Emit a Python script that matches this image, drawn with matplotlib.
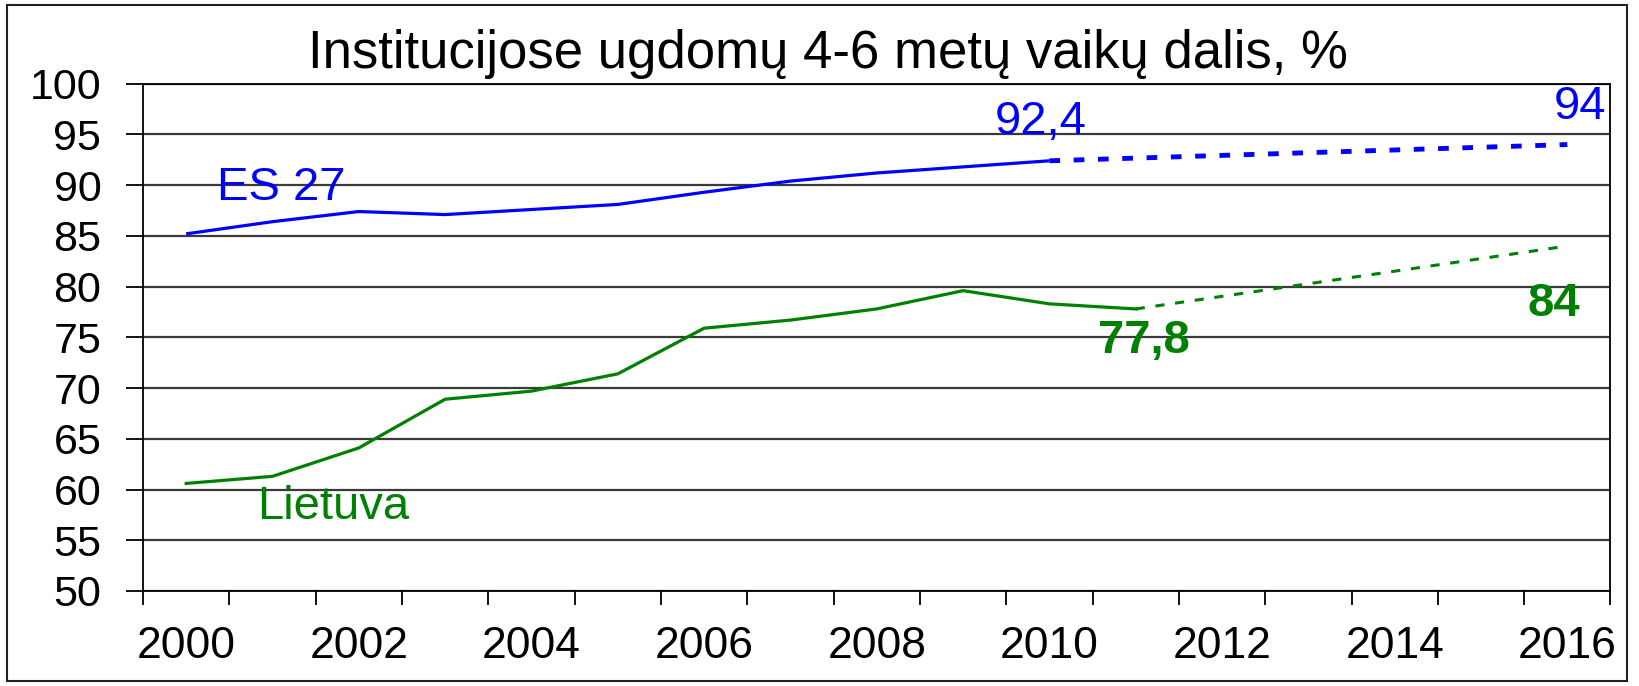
import matplotlib
matplotlib.use("Agg")
import matplotlib.pyplot as plt
from matplotlib.patches import Rectangle
from matplotlib.ticker import MultipleLocator

plt.rcParams['font.family'] = ['Liberation Sans', 'DejaVu Sans']

years = list(range(2000, 2017))

# measured data
es_years = list(range(2000, 2011))
es_values = [85.2, 86.4, 87.4, 87.1, 87.6, 88.1, 89.3, 90.4, 91.2, 91.8, 92.4]
lt_years = list(range(2000, 2012))
lt_values = [60.6, 61.3, 64.1, 68.9, 69.7, 71.4, 75.9, 76.7, 77.8, 79.6, 78.3, 77.8]

# targets (dashed)
es_target_years = [2010, 2016]
es_target_values = [92.4, 94]
lt_target_years = [2011, 2016]
lt_target_values = [77.8, 84]

title = "Institucijose ugdomų 4-6 metų vaikų dalis, %"
blue = "#0000ff"
green = "#008000"

fig = plt.figure(figsize=(16.4, 6.86), dpi=100)
ax = fig.add_axes([0.0872, 0.1385, 0.8948, 0.7395])

ax.plot(es_years, es_values, color=blue, lw=2.3, solid_capstyle='butt')
ax.plot(es_target_years, es_target_values, color=blue, lw=3.5, dashes=(2.2, 2.8))
ax.plot(lt_years, lt_values, color=green, lw=2.3)
ax.plot(lt_target_years, lt_target_values, color=green, lw=2.2, dashes=(3, 3.5))

ax.set_ylim(50, 100)
ax.set_xlim(1999.5, 2016.5)
ax.set_yticks(range(50, 101, 5))
ax.set_xticks(years[::2])
ax.xaxis.set_minor_locator(MultipleLocator(1, offset=0.5))
ax.tick_params(axis='x', which='major', length=0, pad=25, labelsize=32)
ax.tick_params(axis='x', which='minor', length=10, width=1.3, direction='out')
ax.tick_params(axis='y', length=12, width=1.3, pad=18, labelsize=31)
ax.grid(axis='y', color='#3a3a3a', lw=1.6)
ax.set_axisbelow(True)
for s in ax.spines.values():
    s.set_color('black')
    s.set_linewidth(1.3)

fs = 34
ax.text(2001.1, 89.7, "ES 27", color=blue, fontsize=fs, ha='center', va='center')
ax.text(2009.9, 96.2, "92,4", color=blue, fontsize=fs, ha='center', va='center')
ax.text(2016.45, 97.7, "94", color=blue, fontsize=fs, ha='right', va='center')
ax.text(2001.7, 58.3, "Lietuva", color=green, fontsize=fs, ha='center', va='center')
ax.text(2011.1, 74.6, "77,8", color=green, fontsize=fs, fontweight='bold', ha='center', va='center')
ax.text(2016.15, 78.3, "84", color=green, fontsize=fs, fontweight='bold', ha='right', va='center')

fig.text(0.505, 0.922, title, fontsize=38, ha='center', va='center')
fig.patches.append(Rectangle((0.004, 0.008), 0.988, 0.984, transform=fig.transFigure,
                             fill=False, edgecolor='#222222', lw=1.5))

fig.savefig("out.png", dpi=100)
